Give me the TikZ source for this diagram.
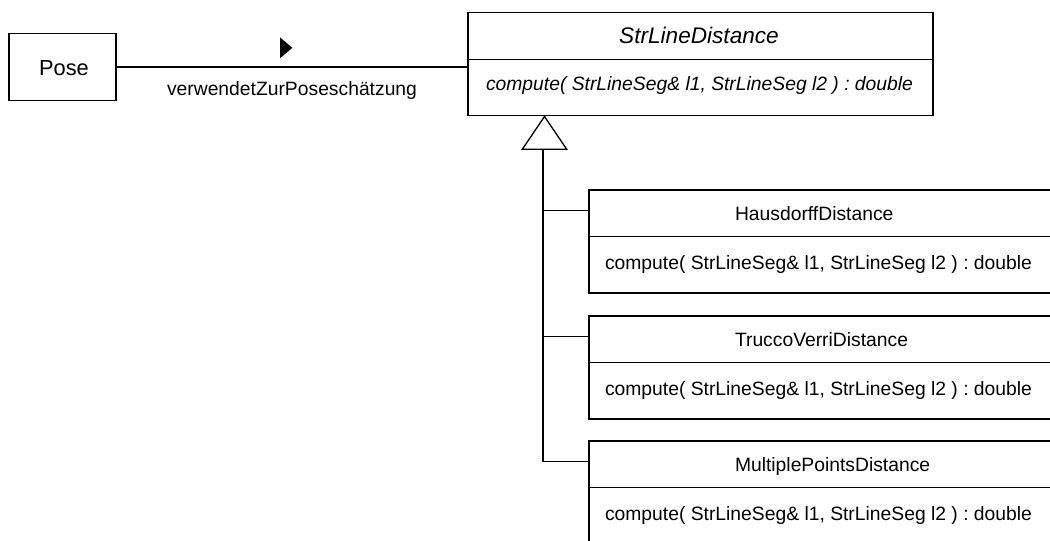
\documentclass[tikz,border=0pt]{standalone}
\usepackage{fontspec}
\setmainfont{Liberation Sans}
\frenchspacing
\begin{document}
\begin{tikzpicture}[x=1pt,y=-1pt, line width=1.3pt, line join=miter,
  every node/.style={inner sep=0pt, outer sep=0pt},
  txt/.style={font=\fontsize{19.3}{23}\selectfont\frenchspacing},
  itxt/.style={font=\fontsize{19.3}{23}\selectfont\itshape\frenchspacing},
  bigtxt/.style={font=\fontsize{21.8}{26}\selectfont\frenchspacing},
  bigitxt/.style={font=\fontsize{22.6}{27}\selectfont\itshape\frenchspacing},
  classbox/.style={draw, rectangle, minimum width=#1, minimum height=103}]
\useasboundingbox (0,0) rectangle (1050,541);
\clip (0,0) rectangle (1050,541);

% Pose
\node[draw, rectangle, minimum width=107, minimum height=67] (pose) at (62.5,67) {};
\node[bigtxt, anchor=base] (posetxt) at (64,75) {Pose};

% StrLineDistance
\node[classbox=465] (sld) at (700.5,64.2) {};
\draw (sld.west |- 0,59.3) -- (sld.east |- 0,59.3);
\node[bigitxt, anchor=base] (sldname) at (699,43.5) {StrLineDistance};
\node[itxt, anchor=base west] (sldop) at (486,90) {compute( StrLineSeg\& l1, StrLineSeg l2 ) : double};

% association
\draw (pose.east) -- (sld.west |- pose.east);
\fill (280,37.3) -- (280,58.3) -- (292.3,47.8) -- cycle;
\node[txt, anchor=base] (assoclbl) at (292,95) {verwendetZurPoseschätzung};

% subclasses
\foreach \nm/\tp/\ttl in {haus/190/HausdorffDistance, trucco/316/TruccoVerriDistance, mp/441/MultiplePointsDistance} {
  \node[classbox=471] (\nm) at (824.5,{\tp+51.5}) {};
  \draw (\nm.west |- 0,{\tp+46.7}) -- (\nm.east |- 0,{\tp+46.7});
  \node[txt, anchor=base west] (\nm name) at (735,{\tp+30.5}) {\ttl};
  \node[txt, anchor=base west] (\nm op) at (605,{\tp+79.5}) {compute( StrLineSeg\& l1, StrLineSeg l2 ) : double};
}

% generalization
\coordinate (apex) at (544.5,116.5);
\coordinate (gen) at (543,149.3);
\draw (apex) -- (566.7,149.3) -- (522.3,149.3) -- cycle;
\coordinate (hb) at ([yshift=-20.5pt]haus.north west);
\coordinate (tb) at ([yshift=-20.5pt]trucco.north west);
\coordinate (mb) at ([yshift=-20.5pt]mp.north west);
\draw (gen) |- (mb);
\draw (hb) -- (gen |- hb);
\draw (tb) -- (gen |- tb);
\end{tikzpicture}
\end{document}
